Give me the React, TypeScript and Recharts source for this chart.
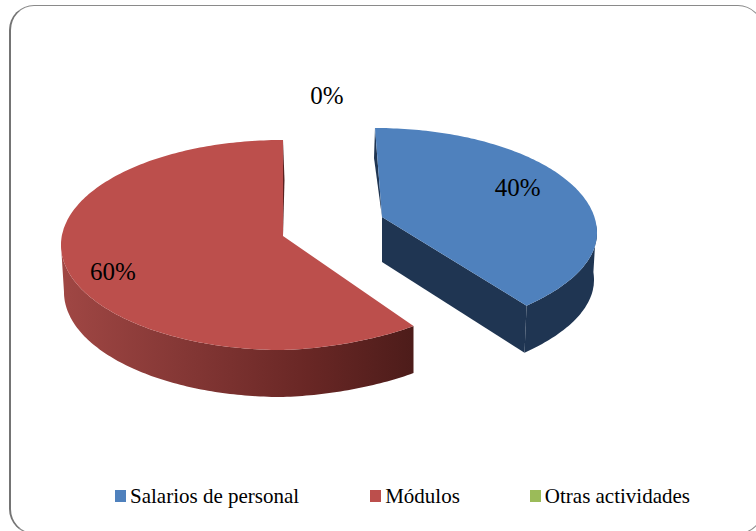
import React from "react";
import { PieChart, Pie, Legend } from "recharts";

const categories = ["Salarios de personal", "Módulos", "Otras actividades"];
const shares = [40, 60, 0];
const colors = ["#4F81BD", "#BC4F4C", "#9BBB59"];

const rows = categories.map((name, i) => ({ name, value: shares[i], fill: colors[i] }));

const W = 756;
const H = 531;
const CX = 283;
const CY = 245;
const RX = 222;
const RY = 105;
const DEPTH = 47;
const FRONT_LIFT = 8;

type Geo = { dx: number; dy: number; ax: number; ay: number; warp: number; lf: number; ldy: number; ir: number };
const geometry: Record<string, Geo> = {
  [categories[0]]: { dx: 92, dy: -12, ax: 7, ay: -16, warp: 0.951, lf: 0.676, ldy: -24, ir: 1 },
  [categories[1]]: { dx: 0, dy: 0, ax: 0, ay: -9, warp: 1, lf: 0.806, ldy: 0, ir: 0 },
  [categories[2]]: { dx: 44, dy: 0, ax: 0, ay: 0, warp: 1, lf: 1.42, ldy: 0, ir: 0 },
};

const clockwise = (a: number) => 90 - a;

function SliceShape(props: any) {
  const { cx, cy, outerRadius, startAngle, endAngle, name, fill } = props;
  const g = geometry[name];
  if (!g || startAngle === endAngle) return <g />;
  const ratio = RY / RX;
  const ry = outerRadius * ratio;
  const ox = cx + g.dx;
  const oy = cy + g.dy;
  const pt = (deg: number, drop = 0, inset = 0) => {
    const t = (deg * g.warp * Math.PI) / 180;
    const s = Math.sin(t);
    const c = Math.cos(t);
    const used = s > 0 ? inset * g.ir : inset;
    const lift = FRONT_LIFT * Math.max(0, -c) * Math.max(0, s);
    return [ox + (outerRadius - used) * s, oy - ry * c - lift + drop] as const;
  };
  const a0 = clockwise(startAngle);
  const a1 = clockwise(endAngle);
  const span = (from: number, to: number, drop = 0, inset = 0) => {
    const out: string[] = [];
    const n = Math.max(2, Math.ceil(Math.abs(to - from)));
    for (let i = 0; i <= n; i++) {
      const p = pt(from + ((to - from) * i) / n, drop, inset);
      out.push(`${p[0].toFixed(1)},${p[1].toFixed(1)}`);
    }
    return out;
  };
  const apex = [ox + g.ax, oy + g.ay];
  const top = `M${apex[0]},${apex[1]} L${span(a0, a1).join(" L")} Z`;
  const isBlue = name === categories[0];
  const frontFrom = Math.max(a0, 90);
  const frontTo = Math.min(a1, 270);
  const wall = `M${span(frontFrom, frontTo).join(" L")} L${span(frontTo, frontFrom, DEPTH, 3).join(" L")} Z`;
  const end = pt(a1);
  const endLow = pt(a1, DEPTH, 3);
  const cut = `M${apex[0]},${apex[1]} L${end[0]},${end[1]} L${endLow[0]},${endLow[1]} L${apex[0]},${apex[1] + DEPTH - 2} Z`;
  const start = pt(a0);
  return (
    <g>
      <defs>
        <linearGradient id="redWall" x1="0" x2="1" y1="0" y2="0">
          <stop offset="0" stopColor="#A04744" />
          <stop offset="0.35" stopColor="#843735" />
          <stop offset="0.7" stopColor="#692725" />
          <stop offset="1" stopColor="#4D1C1A" />
        </linearGradient>
      </defs>
      {isBlue ? (
        <>
          <path d={cut} fill="#1F3552" />
          <path d={wall} fill="#1F3552" />
          <path d={`M${start[0]},${start[1]} L${start[0] - 1},${start[1] + 30} L${apex[0]},${apex[1]} Z`} fill="#1F3552" />
        </>
      ) : (
        <>
          <path d={wall} fill="url(#redWall)" />
          <path d={`M${end[0]},${end[1]} L${end[0] + 1.5},${end[1] + 40} L${apex[0]},${apex[1]} Z`} fill="#5A2120" />
        </>
      )}
      <path d={top} fill={fill} />
    </g>
  );
}

function sliceLabel(props: any) {
  const { cx, cy, midAngle, outerRadius, percent, name } = props;
  const g = geometry[name];
  const t = (clockwise(midAngle) * Math.PI) / 180;
  const ry = outerRadius * (RY / RX);
  const x = cx + g.dx + outerRadius * g.lf * Math.sin(t);
  const y = cy + g.dy - ry * g.lf * Math.cos(t) + g.ldy;
  return (
    <text x={x} y={y} textAnchor="middle" dominantBaseline="central" fill="#000" fontFamily="'Liberation Serif', serif" fontSize={25}>
      {`${Math.round(percent * 100)}%`}
    </text>
  );
}

const legendGaps = [115, 71, 70];

function LegendRow({ payload }: any) {
  return (
    <div style={{ display: "flex", alignItems: "center", fontFamily: "'Liberation Serif', serif", fontSize: 21, color: "#000", lineHeight: "24px", whiteSpace: "nowrap" }}>
      {(payload || []).map((p: any, i: number) => (
        <span key={p.value} style={{ display: "inline-flex", alignItems: "center", marginLeft: legendGaps[i] }}>
          <span style={{ width: 11, height: 12, background: p.color, marginRight: 4, display: "inline-block" }} />
          {p.value}
        </span>
      ))}
    </div>
  );
}

export default function App() {
  return (
    <div style={{ position: "absolute", left: 0, top: 0, width: W, height: H, overflow: "hidden", background: "#fff" }}>
      <div
        style={{
          position: "absolute",
          left: 9,
          top: 5,
          width: 754,
          height: 529,
          borderStyle: "solid",
          borderColor: "#8A8A8A",
          borderWidth: "1px 1px 1px 2px",
          borderLeftColor: "#747474",
          borderRadius: 25,
          boxSizing: "border-box",
        }}
      />
      <PieChart width={W} height={H} margin={{ top: 0, right: 0, bottom: 0, left: 0 }} style={{ position: "absolute", left: 0, top: 0 }}>
        <Pie
          data={rows}
          dataKey="value"
          nameKey="name"
          cx={CX}
          cy={CY}
          outerRadius={RX}
          startAngle={90}
          endAngle={-270}
          paddingAngle={0}
          stroke="none"
          isAnimationActive={false}
          shape={SliceShape}
          label={sliceLabel}
          labelLine={false}
        />
        <Legend itemSorter={null} content={<LegendRow />} wrapperStyle={{ position: "absolute", left: 0, top: 484, width: W }} />
      </PieChart>
    </div>
  );
}
